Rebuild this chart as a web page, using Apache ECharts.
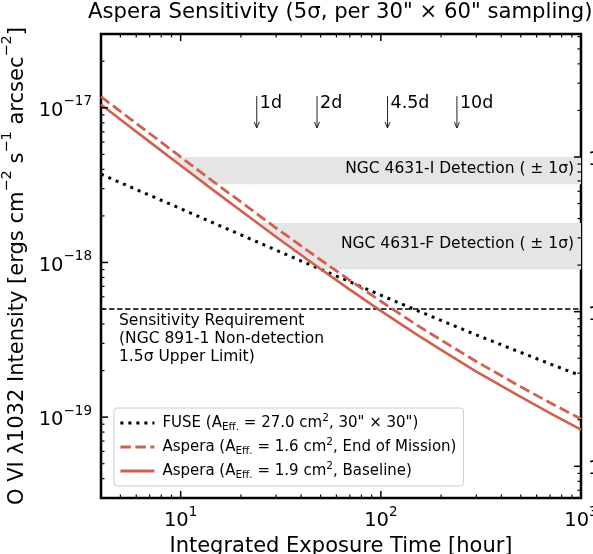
<!DOCTYPE html>
<html><head><meta charset="utf-8">
<script src="https://cdn.jsdelivr.net/npm/echarts@6/dist/echarts.min.js"></script>
<style>html,body{margin:0;padding:0;background:#fff}#c{width:593px;height:554px}</style>
</head><body><div id="c"></div>
<script>
// ---- data ----
const hours = [4, 5, 7, 10, 15, 20, 30, 50, 70, 100, 150, 200, 300, 500, 700, 1000];
const fuse = [3.72e-18, 3.28e-18, 2.72e-18, 2.23e-18, 1.77e-18, 1.51e-18, 1.20e-18, 9.04e-19, 7.50e-19, 6.14e-19, 4.92e-19, 4.22e-19, 3.40e-19, 2.62e-19, 2.21e-19, 1.85e-19];
const asperaEoM = [1.18e-17, 9.48e-18, 6.82e-18, 4.81e-18, 3.24e-18, 2.46e-18, 1.67e-18, 1.04e-18, 7.67e-19, 5.61e-19, 3.97e-19, 3.15e-19, 2.29e-19, 1.57e-19, 1.24e-19, 9.73e-20];
const asperaBase = [1.05e-17, 8.39e-18, 6.02e-18, 4.24e-18, 2.85e-18, 2.16e-18, 1.46e-18, 9.08e-19, 6.67e-19, 4.86e-19, 3.44e-19, 2.72e-19, 1.97e-19, 1.35e-19, 1.06e-19, 8.3e-20];
const sensitivityReq = 5e-19;
const bandI = [3.2e-18, 4.8e-18];
const bandF = [0.9e-18, 1.8e-18];
const bandLabels = ['NGC 4631-I Detection ( \u00b1 1\u03c3)', 'NGC 4631-F Detection ( \u00b1 1\u03c3)'];
const arrowDays = [1, 2, 4.5, 10];
const arrowLabels = ['1d', '2d', '4.5d', '10d'];
const arrowTop = 1.19e-17, arrowBottom = 7.4e-18;
const xMin = 4, xMax = 1000, yMin = 3e-20, yMax = 3e-17;
const luFactor = 2.08e21;   // right axis (photon units) scale factor
const seriesNames = ['FUSE', 'Aspera EoM', 'Aspera Baseline'];
const legendTexts = {
  'FUSE': '{t|FUSE (A}{sub|Eff.}{t| = 27.0 cm}{sup|2}{t|, 30" \u00d7 30")}',
  'Aspera EoM': '{t|Aspera (A}{sub|Eff.}{t| = 1.6 cm}{sup|2}{t|, End of Mission)}',
  'Aspera Baseline': '{t|Aspera (A}{sub|Eff.}{t| = 1.9 cm}{sup|2}{t|, Baseline)}'
};
const sensText = 'Sensitivity Requirement\n(NGC 891-1 Non-detection\n1.5\u03c3 Upper Limit)';

const FONT = 'DejaVu Sans';
const RED = '#d1604d';

function supNum(e) { return (e < 0 ? '\u2212' : '') + Math.abs(e); }
function powLabel(v) {
  const e = Math.log10(v);
  if (Math.abs(e - Math.round(e)) > 1e-6) return '';
  return '{b|10}{s|' + supNum(Math.round(e)) + '}';
}
const tickRich = {
  b: { fontSize: 19.5, fontFamily: FONT, color: '#000', lineHeight: 26, verticalAlign: 'bottom' },
  s: { fontSize: 13.5, fontFamily: FONT, color: '#000', lineHeight: 14, verticalAlign: 'top' }
};

function tickList(lo, hi) {
  const out = [];
  for (let e = Math.floor(Math.log10(lo)) - 1; e <= Math.ceil(Math.log10(hi)); e++) {
    for (let m = 1; m <= 9; m++) {
      const v = m * Math.pow(10, e);
      if (v >= lo * 1.0001 && v <= hi * 0.9999) out.push({ v: v, major: m === 1 });
    }
  }
  return out;
}

function xy(arr) { return hours.map((h, i) => [h, arr[i]]); }

function crossing(level) {
  for (let i = 0; i < hours.length - 1; i++) {
    const y0 = asperaBase[i], y1 = asperaBase[i + 1];
    if ((y0 - level) * (y1 - level) <= 0) {
      const f = (Math.log(level) - Math.log(y0)) / (Math.log(y1) - Math.log(y0));
      return Math.exp(Math.log(hours[i]) + f * (Math.log(hours[i + 1]) - Math.log(hours[i])));
    }
  }
  return xMin;
}

function bandPoly(api, band) {
  const lo = band[0], hi = band[1];
  const tHi = crossing(hi), tLo = crossing(lo);
  const poly = [[tHi, hi], [xMax, hi], [xMax, lo], [tLo, lo]];
  for (let i = hours.length - 1; i >= 0; i--) {
    if (hours[i] > tHi && hours[i] < tLo) poly.push([hours[i], asperaBase[i]]);
  }
  return poly.map(p => api.coord(p));
}

const chart = echarts.init(document.getElementById('c'), null, { renderer: 'canvas' });

const option = {
  animation: false,
  backgroundColor: '#fff',
  title: {
    text: 'Aspera Sensitivity (5\u03c3, per 30" \u00d7 60" sampling)',
    left: 88, top: 2, padding: 0,
    textStyle: { fontFamily: FONT, fontSize: 21.2, fontWeight: 'normal', color: '#000' }
  },
  grid: { left: 101, top: 34, width: 480, height: 464, show: true, borderColor: '#000', borderWidth: 2.5, backgroundColor: 'transparent', containLabel: false, outerBoundsMode: 'none' },
  legend: {
    data: seriesNames,
    orient: 'vertical',
    left: 114, top: 408,
    itemWidth: 34, itemHeight: 14, itemGap: 4,
    padding: [5, 7, 5, 5],
    backgroundColor: 'rgba(255,255,255,0.8)',
    borderColor: '#cccccc', borderWidth: 1, borderRadius: 3,
    itemStyle: { opacity: 0 },
    lineStyle: { width: 2.8 },
    formatter: name => legendTexts[name],
    textStyle: {
      fontFamily: FONT, fontSize: 15, color: '#000', padding: [0, 0, 0, 3],
      rich: {
        t: { fontFamily: FONT, fontSize: 15, color: '#000', lineHeight: 20 },
        sub: { fontFamily: FONT, fontSize: 10.5, color: '#000', lineHeight: 11, verticalAlign: 'bottom' },
        sup: { fontFamily: FONT, fontSize: 10.5, color: '#000', lineHeight: 11, verticalAlign: 'top' }
      }
    }
  },
  xAxis: {
    type: 'log', logBase: 10, min: xMin, max: xMax,
    name: 'Integrated Exposure Time [hour]',
    nameLocation: 'middle', nameGap: 34,
    nameTextStyle: { fontFamily: FONT, fontSize: 21, color: '#000' },
    axisLine: { show: false }, axisTick: { show: false }, splitLine: { show: false },
    axisLabel: { margin: 7, formatter: powLabel, rich: tickRich, showMinLabel: true, showMaxLabel: true, hideOverlap: false }
  },
  yAxis: [{
    type: 'log', logBase: 10, min: yMin, max: yMax, position: 'left',
    name: '{t|O VI \u03bb1032 Intensity [ergs cm}{sup|\u22122}{t| s}{sup|\u22121}{t| arcsec}{sup|\u22122}{t|]}',
    nameLocation: 'middle', nameGap: 66, nameRotate: 90,
    nameTextStyle: {
      fontFamily: FONT, fontSize: 21, color: '#000',
      rich: {
        t: { fontFamily: FONT, fontSize: 21, color: '#000', lineHeight: 28, verticalAlign: 'bottom' },
        sup: { fontFamily: FONT, fontSize: 14.5, color: '#000', lineHeight: 15, verticalAlign: 'top' }
      }
    },
    axisLine: { show: false }, axisTick: { show: false }, splitLine: { show: false },
    axisLabel: { margin: 9, formatter: powLabel, rich: tickRich, hideOverlap: false }
  }, {
    type: 'log', logBase: 10, min: yMin * luFactor, max: yMax * luFactor, position: 'right',
    axisLine: { show: false }, axisTick: { show: false }, splitLine: { show: false },
    axisLabel: { margin: 7, formatter: powLabel, rich: tickRich, hideOverlap: false }
  }],
  series: [
    {
      name: 'bands', type: 'custom', z: 1, silent: true,
      data: [[10, 1e-18]],
      renderItem: function (params, api) {
        const children = [];
        [bandI, bandF].forEach((b, k) => {
          children.push({ type: 'polygon', shape: { points: bandPoly(api, b) }, style: { fill: '#e5e5e5' } });
          const p = api.coord([xMax, Math.sqrt(b[0] * b[1])]);
          children.push({ type: 'text', z2: 5, style: { text: bandLabels[k], x: p[0] - 7, y: p[1] - 2, align: 'right', verticalAlign: 'middle', fontFamily: FONT, fontSize: 15.5, fill: '#000' } });
        });
        // sensitivity text
        const s = api.coord([xMin, sensitivityReq]);
        children.push({ type: 'text', style: { text: sensText, x: s[0] + 18, y: s[1] + 3, align: 'left', verticalAlign: 'top', lineHeight: 18, fontFamily: FONT, fontSize: 15.5, fill: '#000' } });
        // arrows
        arrowDays.forEach((d, k) => {
          const a = api.coord([d * 24, arrowTop]);
          const b = api.coord([d * 24, arrowBottom]);
          children.push({ type: 'line', shape: { x1: a[0], y1: a[1], x2: b[0], y2: b[1] }, style: { stroke: '#222', lineWidth: 1 } });
          children.push({ type: 'polyline', shape: { points: [[b[0] - 2.5, b[1] - 6], [b[0], b[1]], [b[0] + 2.5, b[1] - 6]] }, style: { stroke: '#222', lineWidth: 1, fill: null } });
          children.push({ type: 'text', style: { text: arrowLabels[k], x: a[0] + 3, y: a[1] - 2, align: 'left', verticalAlign: 'top', fontFamily: FONT, fontSize: 17.5, fill: '#000' } });
        });
        return { type: 'group', children: children };
      }
    },
    {
      name: 'sens', type: 'line', z: 2, symbol: 'none', silent: true,
      data: [[xMin, sensitivityReq], [xMax, sensitivityReq]],
      lineStyle: { color: '#000', width: 1.3, type: [5.5, 2.5] }
    },
    {
      name: 'FUSE', type: 'line', z: 3, symbol: 'none', showSymbol: false, data: xy(fuse),
      lineStyle: { color: '#000', width: 3, type: [3, 5], cap: 'butt' },
      itemStyle: { color: '#000' }
    },
    {
      name: 'Aspera EoM', type: 'line', z: 3, symbol: 'none', showSymbol: false, data: xy(asperaEoM),
      lineStyle: { color: RED, width: 2.8, type: [10.5, 4.5], cap: 'butt' },
      itemStyle: { color: RED }
    },
    {
      name: 'Aspera Baseline', type: 'line', z: 3, symbol: 'none', showSymbol: false, data: xy(asperaBase),
      lineStyle: { color: RED, width: 2.6, type: 'solid' },
      itemStyle: { color: RED }
    },
    {
      name: 'ticks', type: 'custom', z: 10, silent: true,
      data: [[10, 1e-18]],
      renderItem: function (params, api) {
        const lb = api.coord([xMin, yMin]), rt = api.coord([xMax, yMax]);
        const left = lb[0], bottom = lb[1], right = rt[0], top = rt[1];
        const ch = [];
        const st = (major) => ({ stroke: '#000', lineWidth: major ? 1.5 : 1.2 });
        tickList(xMin, xMax).forEach(t => {
          const x = api.coord([t.v, yMin])[0];
          const L = t.major ? 7 : 3.5;
          ch.push({ type: 'line', shape: { x1: x, y1: bottom, x2: x, y2: bottom - L }, style: st(t.major) });
          ch.push({ type: 'line', shape: { x1: x, y1: top, x2: x, y2: top + L }, style: st(t.major) });
        });
        tickList(yMin, yMax).forEach(t => {
          const y = api.coord([xMin, t.v])[1];
          const L = t.major ? 7 : 3.5;
          ch.push({ type: 'line', shape: { x1: left, y1: y, x2: left + L, y2: y }, style: st(t.major) });
        });
        tickList(yMin * luFactor, yMax * luFactor).forEach(t => {
          const y = api.coord([xMin, t.v / luFactor])[1];
          const L = t.major ? 7 : 3.5;
          ch.push({ type: 'line', shape: { x1: right, y1: y, x2: right - L, y2: y }, style: st(t.major) });
        });
        return { type: 'group', children: ch };
      }
    }
  ]
};
chart.setOption(option);
</script>
</body></html>
